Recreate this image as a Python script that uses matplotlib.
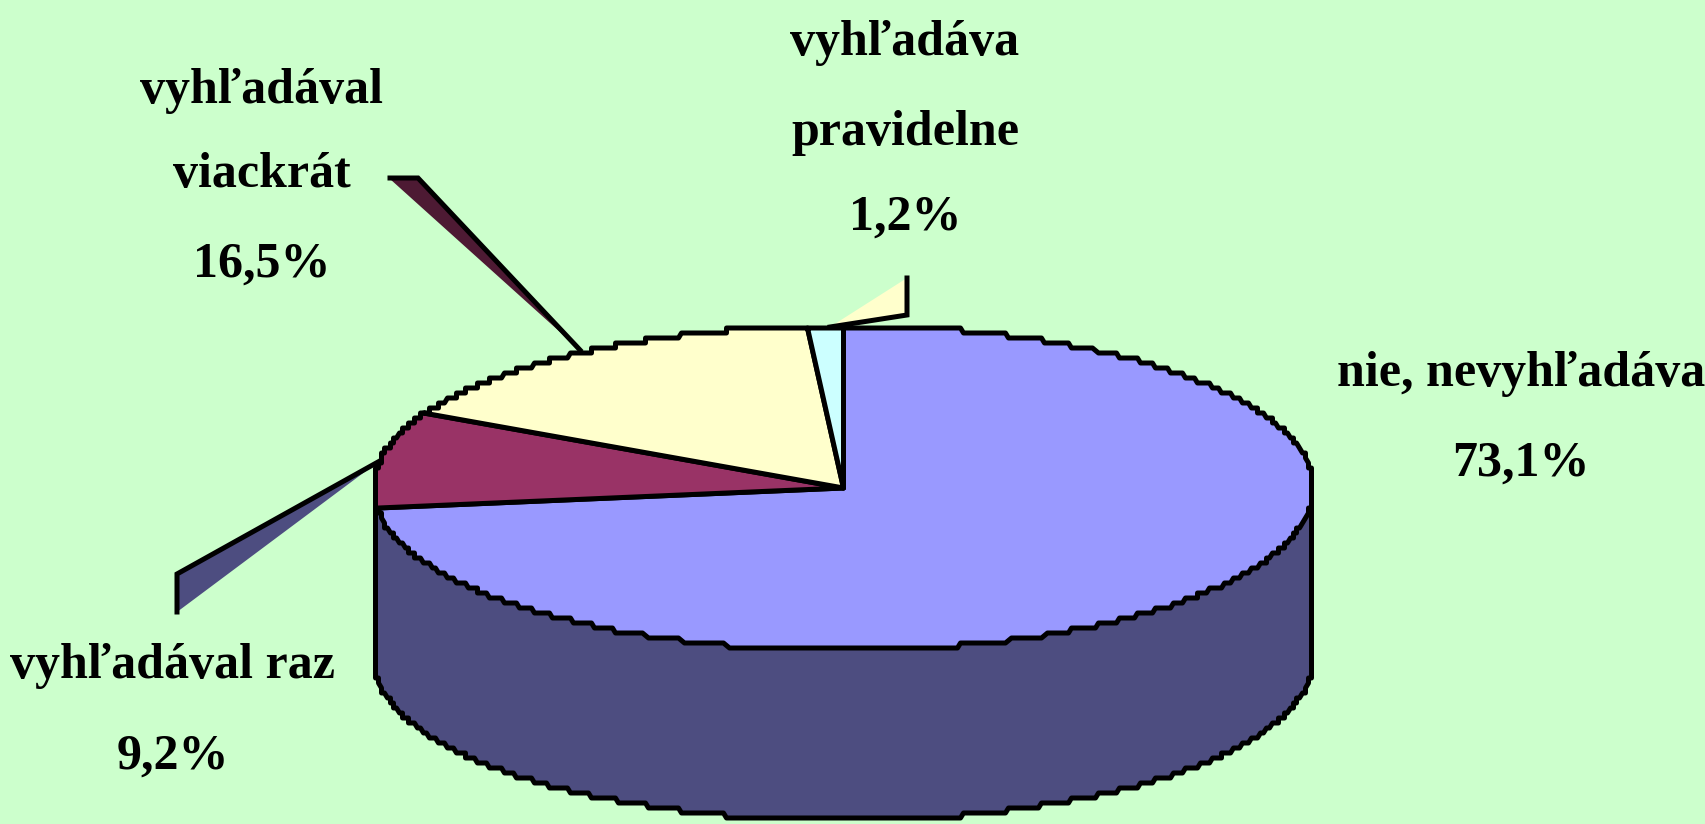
# -*- coding: utf-8 -*-
import numpy as np
import matplotlib
matplotlib.use('Agg')
import matplotlib.pyplot as plt

# data
# order on the pie, clockwise from the top
values = [73.1, 9.2, 16.5, 1.2]
slice_colors = ['#9999FF', '#993366', '#FFFFCC', '#CCFFFF']
side_color = '#4D4D80'
bg_color = '#CCFFCC'

labels = [
    ['nie, nevyhľadáva', '73,1%'],
    ['vyhľadával raz', '9,2%'],
    ['vyhľadával', 'viackrát', '16,5%'],
    ['vyhľadáva', 'pravidelne', '1,2%'],
]
label_x = [1521, 173, 262, 905]
label_y = [[386, 476], [678, 769], [103, 187, 277], [55, 145, 230]]

# leader shapes (fill colour, outline, black part)
leaders = [
    ('#FFFFCC', [(907, 278), (907, 315), (830, 327)], [(907, 278), (907, 315), (830, 327)]),
    ('#4D1A33', [(390, 179), (418, 177), (580, 350)], [(390, 178), (418, 178), (580, 350)]),
    ('#4D4D80', [(177, 574), (177, 612), (378, 462)], [(177, 612), (177, 574), (378, 462)]),
]

W, H = 1706, 824
cx, cy = 843.5, 488
rx, ry = 467.5, 160
depth = 170
lw = 3.6


def stepped(t):
    # old bitmap look: ellipse outline snapped on a coarse grid
    dx = rx * np.cos(t)
    dy = ry * np.sin(t)
    snap_x = np.sign(dx) * np.ceil(np.abs(dx) / 3) * 3
    x = cx + np.where(np.abs(dx) < 3, dx, snap_x)
    y = cy - np.sign(dy) * np.ceil(np.abs(dy) / 5) * 5
    return x, y


plt.rcParams['font.family'] = ['Liberation Serif', 'DejaVu Serif']
fig = plt.figure(figsize=(W / 100, H / 100), dpi=100, facecolor=bg_color)
ax = fig.add_axes([0, 0, 1, 1])
ax.set_xlim(0, W)
ax.set_ylim(H, 0)
ax.axis('off')

# leaders go under the pie
for col, fill_pts, line_pts in leaders:
    ax.fill(*zip(*fill_pts), color=col, lw=0, zorder=1)
    ax.plot(*zip(*line_pts), color='k', lw=lw, zorder=1, solid_joinstyle='miter')

# side wall
t = np.radians(np.linspace(180, 360, 400))
x, y = stepped(t)
side_x = np.r_[x[0], x, x[-1]]
side_y = np.r_[cy, y + depth, cy]
ax.fill(side_x, side_y, facecolor=side_color, edgecolor='k', lw=lw, zorder=2,
        joinstyle='round')

# top of the pie
start = 90.0
for v, col in zip(values, slice_colors):
    end = start - v / sum(values) * 360
    t = np.radians(np.linspace(start, end, 500))
    x, y = stepped(t)
    ax.fill(np.r_[cx, x], np.r_[cy, y], facecolor=col, edgecolor='k', lw=lw,
            zorder=3, joinstyle='round')
    start = end

# labels
for lines, lx, ys in zip(labels, label_x, label_y):
    for s, ly in zip(lines, ys):
        ax.text(lx, ly, s, ha='center', va='baseline', fontsize=36,
                fontweight='bold', color='k', zorder=4)

plt.savefig('out.png', dpi=100, facecolor=bg_color)
